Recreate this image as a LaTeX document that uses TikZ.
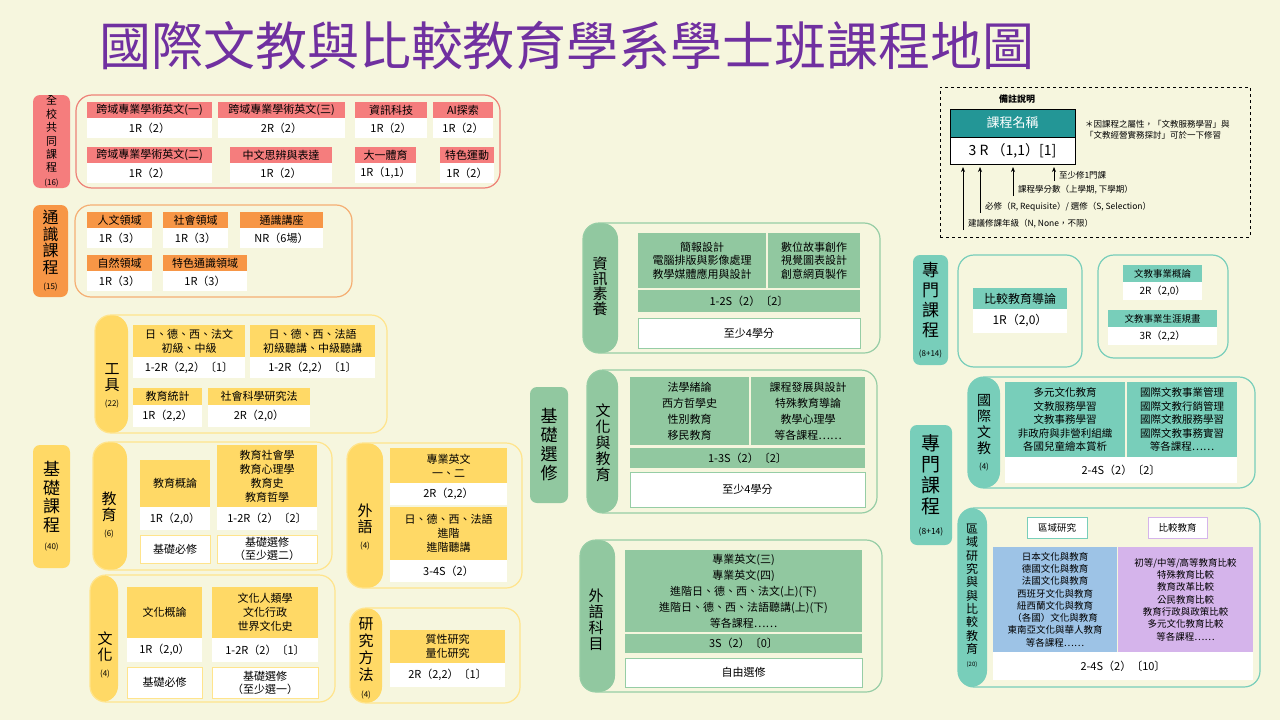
\documentclass[tikz,border=0pt]{standalone}
\usepackage{fontspec}
\setmainfont{Noto Sans CJK TC}
\usepackage{tikz}
\usetikzlibrary{arrows.meta}

\definecolor{pagebg}{RGB}{246,246,222}
\definecolor{titlec}{RGB}{112,48,160}
\definecolor{redc}{RGB}{245,125,125}
\definecolor{redl}{RGB}{238,130,120}
\definecolor{orgc}{RGB}{247,150,70}
\definecolor{orgl}{RGB}{245,175,115}
\definecolor{ylwc}{RGB}{255,217,102}
\definecolor{ylwl}{RGB}{255,228,140}
\definecolor{grnc}{RGB}{145,200,160}
\definecolor{grnl}{RGB}{150,205,165}
\definecolor{tealc}{RGB}{120,206,186}
\definecolor{teald}{RGB}{35,150,150}
\definecolor{bluec}{RGB}{157,195,230}
\definecolor{purc}{RGB}{213,180,235}
\newcommand\fsz[2]{\fontsize{#1}{#2}\selectfont}

\begin{document}
\begin{tikzpicture}[x=1pt, y=-1pt,
  every node/.style={inner sep=0pt, outer sep=0pt, align=center, font=\fsz{11}{14}},
  bx/.style n args={4}{at={(#1,#2)}, anchor=north west, minimum width={((#3)-(#1))*1pt}, minimum height={((#4)-(#2))*1pt}},
  hd/.style={fill=#1},
  val/.style={fill=white},
  memo/.style={fill=white, draw=#1, line width=1pt},
  tag/.style={fill=#1, rounded corners=7pt},
  pad/.style={draw=#1, line width=1.2pt, rounded corners=16pt},
  blk/.style n args={3}{pad=#1, path picture={\fill[#2] (path picture bounding box.north west) rectangle ([xshift=#3]path picture bounding box.south west);}}]
\fill[pagebg] (0,0) rectangle (1280,720);
\useasboundingbox (0,0) rectangle (1280,720);

\node[text=titlec, font=\fsz{52}{56}] (ttl) at (567,46) {國際文教與比較教育學系學士班課程地圖};

% 全校共同課程
\node[tag=redc, bx={33}{95}{70}{188}, font=\fsz{11}{13.4}] (qtag) {全\\校\\共\\同\\課\\程\\{\fsz{8}{10}(16)}};
\node[pad=redl, bx={76}{95}{500}{188}] (qbox) {};
\foreach \i/\xa/\xb/\ya/\t/\v in {1/87/212/102/跨域專業學術英文(一)/1R（2）, 2/218/345/102/跨域專業學術英文(三)/2R（2）,
    3/355/427/102/資訊科技/1R（2）, 4/433/493/102/AI探索/1R（2）, 5/87/212/147/跨域專業學術英文(二)/1R（2）,
    6/230/332/147/中文思辨與表達/1R（2）, 7/355/416/147/大一體育/{1R（1,1）}, 8/440/494/147/特色運動/1R（2）}
  {\node[hd=redc, bx={\xa}{\ya}{\xb}{\ya+16}] (q\i) {\t};
   \node[val, bx={\xa}{\ya+16}{\xb}{\ya+36}] (q\i v) {\v};}

% 通識課程
\node[tag=orgc, bx={33}{205}{68}{297}, font=\fsz{16}{16.5}] (gtag) {通\\識\\課\\程\\{\fsz{8}{12}(15)}};
\node[pad=orgl, bx={75}{205}{352}{297}] (gbox) {};
\foreach \i/\xa/\xb/\ya/\t/\v in {1/87/152/212/人文領域/1R（3）, 2/163/228/212/社會領域/1R（3）, 3/240/323/212/通識講座/NR（6場）,
    4/87/152/255/自然領域/1R（3）, 5/163/247/255/特色通識領域/1R（3）}
  {\node[hd=orgc, bx={\xa}{\ya}{\xb}{\ya+16}] (g\i) {\t};
   \node[val, bx={\xa}{\ya+16}{\xb}{\ya+36}] (g\i v) {\v};}

% 基礎課程
\node[tag=ylwc, bx={33}{445}{70}{568}, font=\fsz{17}{18.5}] (btag) {基\\礎\\課\\程\\{\fsz{8}{14}(40)}};
% 工具
\node[blk={ylwl}{ylwc}{33}, bx={95}{315}{387}{433}] (tbox) {};
\node[font=\fsz{15}{16}] (tlab) at (112,386) {工\\具\\{\fsz{8}{13}(22)}};
\node[hd=ylwc, bx={133}{325}{245}{357}] (t1) {日、德、西、法文\\初級、中級};
\node[val, bx={133}{357}{245}{378}] (t1v) {1-2R（2,2）〔1〕};
\node[hd=ylwc, bx={250}{325}{375}{357}] (t2) {日、德、西、法語\\初級聽講、中級聽講};
\node[val, bx={250}{357}{375}{378}] (t2v) {1-2R（2,2）〔1〕};
\node[hd=ylwc, bx={133}{388}{202}{405}] (t3) {教育統計};
\node[val, bx={133}{405}{202}{427}] (t3v) {1R（2,2）};
\node[hd=ylwc, bx={208}{388}{310}{405}] (t4) {社會科學研究法};
\node[val, bx={208}{405}{310}{427}] (t4v) {2R（2,0）};
% 教育
\node[blk={ylwl}{ylwc}{34}, bx={93}{442}{332}{570}] (ebox) {};
\node[font=\fsz{15}{16}] (elab) at (109,515) {教\\育\\{\fsz{8}{13}(6)}};
\node[hd=ylwc, bx={140}{460}{210}{507}] (e1) {教育概論};
\node[val, bx={140}{507}{210}{530}] (e1v) {1R（2,0）};
\node[memo=ylwl, bx={140}{535}{210}{563}] (e1m) {基礎必修};
\node[hd=ylwc, bx={217}{445}{317}{507}] (e2) {教育社會學\\教育心理學\\教育史\\教育哲學};
\node[val, bx={217}{507}{317}{530}] (e2v) {1-2R（2）〔2〕};
\node[memo=ylwl, bx={217}{535}{317}{563}, font=\fsz{11}{13}] (e2m) {基礎選修\\（至少選二）};
% 文化
\node[blk={ylwl}{ylwc}{28}, bx={90}{575}{335}{702}] (cbox) {};
\node[font=\fsz{15}{16}] (clab) at (105,655) {文\\化\\{\fsz{8}{13}(4)}};
\node[hd=ylwc, bx={127}{587}{202}{638}] (c1) {文化概論};
\node[val, bx={127}{638}{202}{662}] (c1v) {1R（2,0）};
\node[memo=ylwl, bx={127}{667}{202}{698}] (c1m) {基礎必修};
\node[hd=ylwc, bx={212}{587}{318}{638}] (c2) {文化人類學\\文化行政\\世界文化史};
\node[val, bx={212}{638}{318}{662}] (c2v) {1-2R（2）〔1〕};
\node[memo=ylwl, bx={212}{667}{318}{698}, font=\fsz{11}{13}] (c2m) {基礎選修\\（至少選一）};
% 外語
\node[blk={ylwl}{ylwc}{36}, bx={347}{443}{522}{588}] (fbox) {};
\node[font=\fsz{15}{16}] (flab) at (365,527) {外\\語\\{\fsz{8}{13}(4)}};
\node[hd=ylwc, bx={390}{448}{507}{483}] (f1) {專業英文\\一、二};
\node[val, bx={390}{483}{507}{505}] (f1v) {2R（2,2）};
\node[hd=ylwc, bx={390}{507}{507}{560}] (f2) {日、德、西、法語\\進階\\進階聽講};
\node[val, bx={390}{560}{507}{582}] (f2v) {3-4S（2）};
% 研究方法
\node[blk={ylwl}{ylwc}{32}, bx={350}{608}{520}{703}] (rbox) {};
\node[font=\fsz{15}{17}] (rlab) at (366,658) {研\\究\\方\\法\\{\fsz{8}{12}(4)}};
\node[hd=ylwc, bx={390}{630}{505}{663}] (r1) {質性研究\\量化研究};
\node[val, bx={390}{663}{505}{687}] (r1v) {2R（2,2）〔1〕};

% 基礎選修
\node[tag=grnc, bx={530}{387}{568}{503}, font=\fsz{17}{19}] (stag) {基\\礎\\選\\修};
% 資訊素養
\node[blk={grnl}{grnc}{35}, bx={583}{223}{880}{353}] (ibox) {};
\node[font=\fsz{15}{15}] (ilab) at (600,286) {資\\訊\\素\\養};
\node[hd=grnc, bx={638}{233}{766}{288}, font=\fsz{11}{13.5}] (i1) {簡報設計\\電腦排版與影像處理\\教學媒體應用與設計};
\node[hd=grnc, bx={768}{233}{860}{288}, font=\fsz{11}{13.5}] (i2) {數位故事創作\\視覺圖表設計\\創意網頁製作};
\node[hd=grnc, bx={638}{290}{860}{312}] (i3) {1-2S（2）〔2〕};
\node[memo=grnl, bx={638}{318}{860}{348}] (i4) {至少4學分};
% 文化與教育
\node[blk={grnl}{grnc}{31}, bx={587}{370}{877}{513}] (hbox) {};
\node[font=\fsz{15}{16}] (hlab) at (603,443) {文\\化\\與\\教\\育};
\node[hd=grnc, bx={630}{377}{749}{445}, font=\fsz{11}{16}] (h1) {法學緒論\\西方哲學史\\性別教育\\移民教育};
\node[hd=grnc, bx={751}{377}{865}{445}, font=\fsz{11}{16}] (h2) {課程發展與設計\\特殊教育導論\\教學心理學\\等各課程……};
\node[hd=grnc, bx={630}{448}{865}{468}] (h3) {1-3S（2）〔2〕};
\node[memo=grnl, bx={630}{472}{865}{507}] (h4) {至少4學分};
% 外語科目
\node[blk={grnl}{grnc}{35}, bx={580}{540}{882}{692}] (kbox) {};
\node[font=\fsz{15}{16}] (klab) at (596,620) {外\\語\\科\\目};
\node[hd=grnc, bx={625}{550}{862}{632}, font=\fsz{11}{16}] (k1) {專業英文(三)\\專業英文(四)\\進階日、德、西、法文(上)(下)\\進階日、德、西、法語聽講(上)(下)\\等各課程……};
\node[hd=grnc, bx={625}{634}{862}{653}] (k2) {3S（2）〔0〕};
\node[memo=grnl, bx={625}{658}{862}{687}] (k3) {自由選修};

% 備註說明
\node[draw, dashed, bx={940}{87}{1250}{237}] (lgd) {};
\node[font=\fsz{9}{11}\bfseries] (lgt) at (1017,99) {備註說明};
\node[fill=teald, draw=black, text=white, font=\fsz{13}{15}, bx={950}{109}{1075}{137}] (lh) {課程名稱};
\node[fill=white, draw=black, font=\fsz{14}{16}, bx={950}{137}{1075}{164}] (lv) {3 R （1,1）[1]};
\node[anchor=west, align=left, font=\fsz{8.5}{11}] (lnote) at (1085,130) {＊因課程之屬性，「文教服務學習」與\\「文教經營實務探討」可於一下修習};
\foreach \i/\x/\y/\t in {1/1054/181/至少修1門課, 2/1013/196/{課程學分數（上學期, 下學期）},
    3/980/213/{必修（R, Requisite）/ 選修（S, Selection）}, 4/963/230/{建議修課年級（N, None，不限）}}
  {\coordinate (p\i) at (\x,\y);
   \draw[-{Stealth[length=5pt,width=4pt]}, line width=0.9pt] (p\i) -- ([yshift=-3pt]p\i |- lv.south);
   \node[anchor=west, font=\fsz{8.5}{10}] (pl\i) at (\x+5,\y-6) {\t};}

% 專門課程
\node[tag=tealc, bx={913}{255}{948}{365}, font=\fsz{17}{20}] (ztag) {專\\門\\課\\程\\{\fsz{8}{12}(8+14)}};
\node[pad=tealc, bx={958}{255}{1082}{367}] (zbox1) {};
\node[hd=tealc, bx={973}{288}{1067}{309}, font=\fsz{12}{14}] (b1) {比較教育導論};
\node[val, bx={973}{309}{1067}{333}, font=\fsz{12}{14}] (b1v) {1R（2,0）};
\node[pad=tealc, bx={1098}{255}{1228}{358}] (zbox2) {};
\node[hd=tealc, bx={1123}{265}{1202}{282}, font=\fsz{9.5}{12}] (b2) {文教事業概論};
\node[val, bx={1123}{282}{1202}{300}, font=\fsz{10}{12}] (b2v) {2R（2,0）};
\node[hd=tealc, bx={1108}{310}{1217}{327}, font=\fsz{9.5}{12}] (b3) {文教事業生涯規畫};
\node[val, bx={1108}{327}{1217}{345}, font=\fsz{10}{12}] (b3v) {3R（2,2）};

\node[tag=tealc, bx={910}{425}{952}{545}, font=\fsz{19}{21}] (ztag2) {專\\門\\課\\程\\{\fsz{8.5}{13}(8+14)}};
% 國際文教
\node[blk={tealc}{tealc}{32}, bx={968}{377}{1255}{488}] (nbox) {};
\node[font=\fsz{14}{16}] (nlab) at (984,433) {國\\際\\文\\教\\{\fsz{8}{12}(4)}};
\node[hd=tealc, bx={1005}{382}{1125}{457}, font=\fsz{10.5}{13.5}] (n1) {多元文化教育\\文教服務學習\\文教事務學習\\非政府與非營利組織\\各國兒童繪本賞析};
\node[hd=tealc, bx={1127}{382}{1237}{457}, font=\fsz{10.5}{13.5}] (n2) {國際文教事業管理\\國際文教行銷管理\\國際文教服務學習\\國際文教事務實習\\等各課程……};
\node[val, bx={1005}{457}{1237}{483}] (n3) {2-4S（2）〔2〕};
% 區域研究與比較教育
\node[blk={tealc}{tealc}{29}, bx={958}{508}{1260}{687}] (abox) {};
\node[font=\fsz{12}{13.3}] (alab) at (972,596) {區\\域\\研\\究\\與\\與\\比\\較\\教\\育\\{\fsz{6}{10}(20)}};
\node[memo=tealc, bx={1027}{517}{1087}{538}, font=\fsz{9.5}{12}] (a1) {區域研究};
\node[memo=purc, bx={1148}{517}{1207}{538}, font=\fsz{9.5}{12}] (a2) {比較教育};
\node[hd=bluec, bx={993}{547}{1117}{652}, font=\fsz{9.5}{12.3}] (a3) {日本文化與教育\\德國文化與教育\\法國文化與教育\\西班牙文化與教育\\紐西蘭文化與教育\\（各國）文化與教育\\東南亞文化與華人教育\\等各課程……};
\node[hd=purc, bx={1118}{547}{1253}{652}, font=\fsz{9.5}{12.3}] (a4) {初等/中等/高等教育比較\\特殊教育比較\\教育改革比較\\公民教育比較\\教育行政與政策比較\\多元文化教育比較\\等各課程……};
\node[val, bx={993}{652}{1253}{680}] (a5) {2-4S（2）〔10〕};
\end{tikzpicture}
\end{document}
